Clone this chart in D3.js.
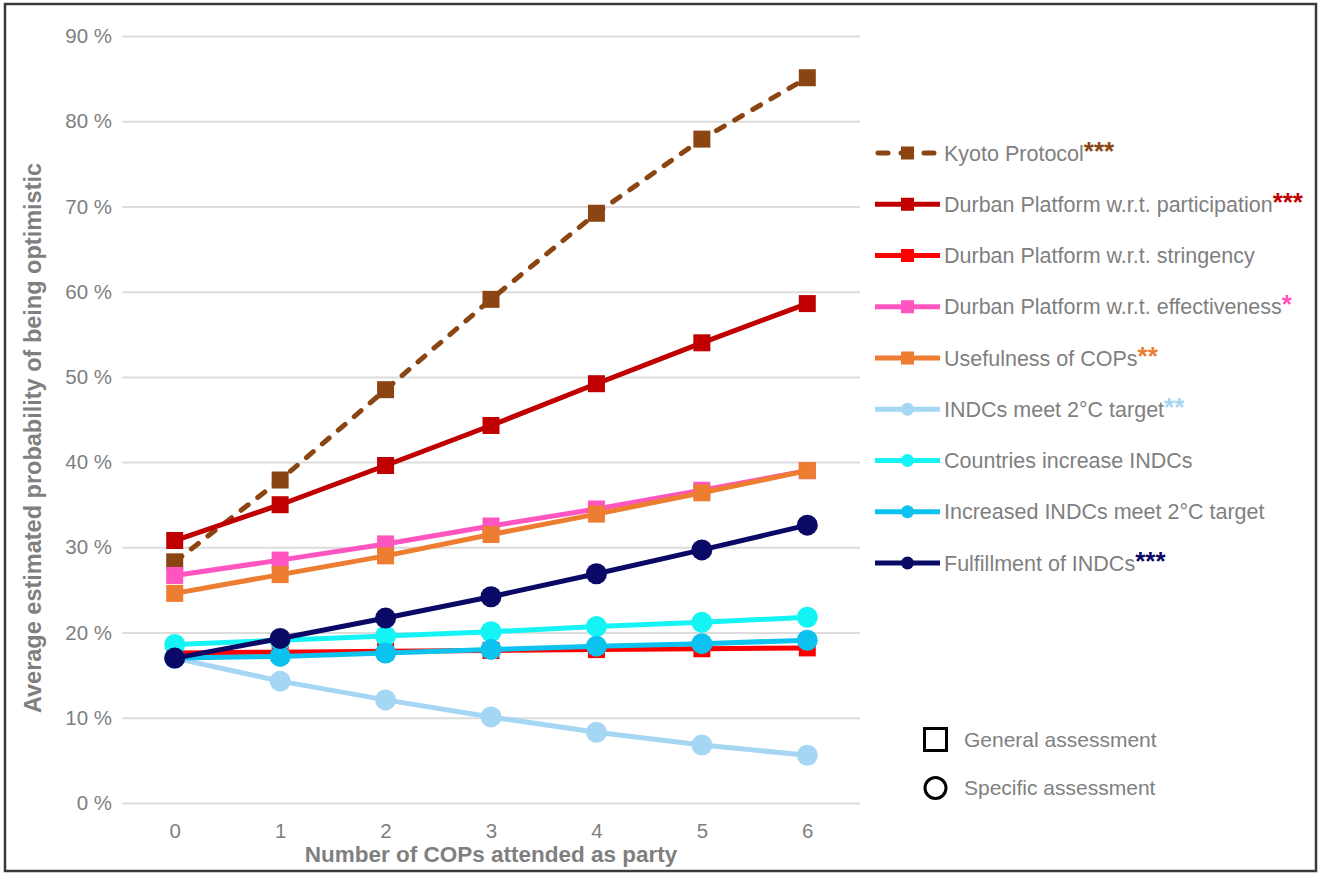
<!DOCTYPE html>
<html>
<head>
<meta charset="utf-8">
<script src="https://cdn.jsdelivr.net/npm/d3@7"></script>
<style>
  body { margin: 0; background: #fff; }
  svg { display: block; font-family: "Liberation Sans", Arial, sans-serif; }
</style>
</head>
<body>
<div id="container"></div>
<script>
//### DATA ###
//>>> Number of COPs attended (x axis categories):
const cops = [ 0, 1, 2, 3, 4, 5, 6 ];
//>>> Y tick values (percent):
const yTicks = [ 0, 10, 20, 30, 40, 50, 60, 70, 80, 90 ];

//>>> Average estimated probability of being optimistic (percent), per series:
const kyoto = [ 28.3, 37.9, 48.5, 59.1, 69.2, 77.9, 85.1 ];
const durbanParticipation = [ 30.8, 35.0, 39.6, 44.3, 49.2, 54.0, 58.6 ];
const durbanStringency = [ 17.6, 17.7, 17.8, 17.9, 18.0, 18.1, 18.2 ];
const durbanEffectiveness = [ 26.7, 28.5, 30.4, 32.5, 34.5, 36.7, 39.0 ];
const usefulness = [ 24.6, 26.8, 29.0, 31.5, 33.9, 36.4, 39.0 ];
const indcsMeet = [ 17.0, 14.3, 12.1, 10.1, 8.3, 6.8, 5.6 ];
const countriesIncrease = [ 18.6, 19.1, 19.6, 20.1, 20.7, 21.2, 21.8 ];
const increasedMeet = [ 17.0, 17.2, 17.6, 18.0, 18.4, 18.7, 19.1 ];
const fulfillment = [ 17.0, 19.3, 21.7, 24.2, 26.9, 29.7, 32.6 ];

//>>> Series labels, significance stars, colours and marker type:
const seriesNames = [
  'Kyoto Protocol',
  'Durban Platform w.r.t. participation',
  'Durban Platform w.r.t. stringency',
  'Durban Platform w.r.t. effectiveness',
  'Usefulness of COPs',
  'INDCs meet 2°C target',
  'Countries increase INDCs',
  'Increased INDCs meet 2°C target',
  'Fulfillment of INDCs'
];
const seriesStars = [ '***', '***', '', '*', '**', '**', '', '', '***' ];
const seriesColors = [ '#8b4513', '#c00000', '#ff0000', '#ff55c0', '#ed7d31', '#a5d6f3', '#14f4f4', '#0cc2ee', '#0a0a66' ];
const seriesMarkers = [ 'square', 'square', 'square', 'square', 'square', 'circle', 'circle', 'circle', 'circle' ];
const seriesValues = [ kyoto, durbanParticipation, durbanStringency, durbanEffectiveness, usefulness,
  indcsMeet, countriesIncrease, increasedMeet, fulfillment ];

const series = seriesNames.map( ( name, i ) => ( {
  name,
  stars: seriesStars[ i ],
  color: seriesColors[ i ],
  marker: seriesMarkers[ i ],
  dashed: i === 0,
  values: seriesValues[ i ].map( ( v, j ) => ( { cop: cops[ j ], value: v } ) )
} ) );


//### CREATE THE CHART ###
function createChart () {
  //_____ VARIABLES _____
  const width = 1322;
  const height = 875;
  const gray = '#7f7f7f';
  const gridColor = '#dcdcdc';

  const svg = d3.select( '#container' )
    .append( 'svg' )
    .attr( 'width', width )
    .attr( 'height', height );

  //>>> Outer frame:
  svg.append( 'rect' )
    .attr( 'x', 5 ).attr( 'y', 4 )
    .attr( 'width', 1311 ).attr( 'height', 867 )
    .attr( 'fill', '#fff' )
    .attr( 'stroke', '#3a3a3a' )
    .attr( 'stroke-width', 2.5 );

  //_____ SCALES _____
  const x = d3.scalePoint()
    .domain( cops )
    .range( [ 122, 860 ] )
    .padding( 0.5 );

  const y = d3.scaleLinear()
    .domain( [ 0, 90 ] )
    .range( [ 803, 36 ] );

  //_____ GRID AND Y AXIS _____
  const yAxis = d3.axisLeft( y )
    .tickValues( yTicks )
    .tickSize( -( 860 - 122 ) )
    .tickPadding( 10 )
    .tickFormat( d => `${d} %` );

  const yAxisG = svg.append( 'g' )
    .attr( 'transform', 'translate(122,0)' )
    .call( yAxis );
  yAxisG.select( '.domain' ).remove();
  yAxisG.selectAll( '.tick line' )
    .attr( 'stroke', gridColor )
    .attr( 'stroke-width', 2 );
  yAxisG.selectAll( '.tick text' )
    .attr( 'fill', gray )
    .style( 'font-size', '20.5px' );

  //_____ X AXIS _____
  const xAxisG = svg.append( 'g' )
    .attr( 'transform', 'translate(0,803)' )
    .call( d3.axisBottom( x ).tickSize( 0 ).tickPadding( 20 ) );
  xAxisG.select( '.domain' ).remove();
  xAxisG.selectAll( '.tick text' )
    .attr( 'fill', gray )
    .style( 'font-size', '20.5px' );

  //_____ AXIS TITLES _____
  svg.append( 'text' )
    .attr( 'x', x( 3 ) )
    .attr( 'y', 862 )
    .attr( 'text-anchor', 'middle' )
    .attr( 'fill', gray )
    .style( 'font-size', '22.5px' )
    .style( 'font-weight', 'bold' )
    .text( 'Number of COPs attended as party' );

  svg.append( 'text' )
    .attr( 'transform', 'translate(41,438) rotate(-90)' )
    .attr( 'text-anchor', 'middle' )
    .attr( 'fill', gray )
    .style( 'font-size', '23.5px' )
    .style( 'font-weight', 'bold' )
    .text( 'Average estimated probability of being optimistic' );

  //_____ LINES AND MARKERS _____
  const line = d3.line()
    .x( d => x( d.cop ) )
    .y( d => y( d.value ) );

  const seriesG = svg.selectAll( '.series' )
    .data( series )
    .enter()
    .append( 'g' )
    .attr( 'class', 'series' );

  seriesG.append( 'path' )
    .attr( 'd', d => line( d.values ) )
    .attr( 'fill', 'none' )
    .attr( 'stroke', d => d.color )
    .attr( 'stroke-width', 5 )
    .attr( 'stroke-linejoin', 'round' )
    .attr( 'stroke-linecap', d => d.dashed ? 'round' : 'butt' )
    .attr( 'stroke-dasharray', d => d.dashed ? '9,12' : null );

  seriesG.each( function ( s ) {
    const g = d3.select( this );
    if ( s.marker === 'square' ) {
      g.selectAll( 'rect' )
        .data( s.values )
        .enter()
        .append( 'rect' )
        .attr( 'x', d => x( d.cop ) - 8.5 )
        .attr( 'y', d => y( d.value ) - 8.5 )
        .attr( 'width', 17 )
        .attr( 'height', 17 )
        .attr( 'fill', s.color );
    } else {
      g.selectAll( 'circle' )
        .data( s.values )
        .enter()
        .append( 'circle' )
        .attr( 'cx', d => x( d.cop ) )
        .attr( 'cy', d => y( d.value ) )
        .attr( 'r', 10.5 )
        .attr( 'fill', s.color );
    }
  } );

  //_____ LEGEND _____
  createLegend( svg, gray );
}


//### CREATE THE LEGEND ###
function createLegend ( svg, gray ) {
  const rowY = d3.scaleLinear().domain( [ 0, 8 ] ).range( [ 153, 563 ] );

  const item = svg.selectAll( '.legend-item' )
    .data( series )
    .enter()
    .append( 'g' )
    .attr( 'class', 'legend-item' )
    .attr( 'transform', ( d, i ) => `translate(0, ${rowY( i )})` );

  item.append( 'line' )
    .attr( 'x1', d => d.dashed ? 878 : 875 )
    .attr( 'x2', d => d.dashed ? 936 : 940 )
    .attr( 'stroke', d => d.color )
    .attr( 'stroke-width', 5 )
    .attr( 'stroke-linecap', d => d.dashed ? 'round' : 'butt' )
    .attr( 'stroke-dasharray', d => d.dashed ? '10,13' : null );

  item.each( function ( s ) {
    const g = d3.select( this );
    if ( s.marker === 'square' ) {
      g.append( 'rect' )
        .attr( 'x', 901 ).attr( 'y', -6.5 )
        .attr( 'width', 13 ).attr( 'height', 13 )
        .attr( 'fill', s.color );
    } else {
      g.append( 'circle' )
        .attr( 'cx', 907.5 ).attr( 'cy', 0 )
        .attr( 'r', 6.5 )
        .attr( 'fill', s.color );
    }
  } );

  const label = item.append( 'text' )
    .attr( 'x', 944 )
    .attr( 'y', 7.5 )
    .attr( 'fill', gray )
    .style( 'font-size', '21.5px' );
  label.append( 'tspan' ).text( d => d.name );
  //>>> Significance stars as coloured superscript:
  label.append( 'tspan' )
    .attr( 'dy', -1 )
    .attr( 'fill', d => d.color )
    .style( 'font-weight', 'bold' )
    .style( 'font-size', '26px' )
    .text( d => d.stars );

  //>>> Marker shape key:
  svg.append( 'rect' )
    .attr( 'x', 924.5 ).attr( 'y', 728.5 )
    .attr( 'width', 22 ).attr( 'height', 22 )
    .attr( 'fill', 'none' )
    .attr( 'stroke', '#000' )
    .attr( 'stroke-width', 3 );
  svg.append( 'text' )
    .attr( 'x', 964 ).attr( 'y', 747 )
    .attr( 'fill', gray )
    .style( 'font-size', '21px' )
    .text( 'General assessment' );

  svg.append( 'circle' )
    .attr( 'cx', 935.5 ).attr( 'cy', 788 )
    .attr( 'r', 10.5 )
    .attr( 'fill', 'none' )
    .attr( 'stroke', '#000' )
    .attr( 'stroke-width', 3 );
  svg.append( 'text' )
    .attr( 'x', 964 ).attr( 'y', 795 )
    .attr( 'fill', gray )
    .style( 'font-size', '21px' )
    .text( 'Specific assessment' );
}

createChart();
</script>
</body>
</html>
